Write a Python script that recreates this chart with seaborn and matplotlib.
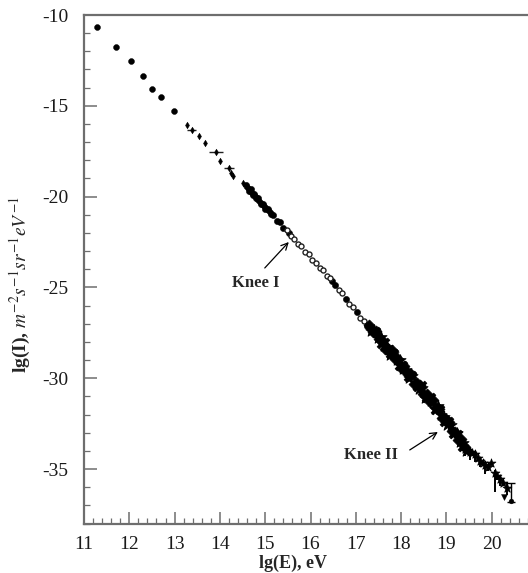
import matplotlib
matplotlib.use("Agg")
import matplotlib.pyplot as plt
from matplotlib.ticker import MultipleLocator
import pandas as pd
import seaborn as sns

# ---- measured cosmic-ray all-particle spectrum, lg(E) [eV] vs lg(I) ----
# direct (balloon / satellite) measurements
direct_lgE = [11.29, 11.70, 12.03, 12.30, 12.51, 12.71, 12.99]
direct_lgI = [-10.68, -11.78, -12.55, -13.38, -14.06, -14.50, -15.27]

# small-sample measurements around 10^13-10^14.5 eV
low_lgE = [13.27, 13.38, 13.54, 13.67, 13.91, 14.00, 14.20, 14.24, 14.29, 14.50]
low_lgI = [-16.06, -16.33, -16.66, -17.03, -17.54, -18.02, -18.44, -18.68, -18.87, -19.23]
low_xerr = [0.0, 0.10, 0.0, 0.0, 0.15, 0.0, 0.11, 0.0, 0.0, 0.0]

# air-shower arrays near the first knee (filled points)
knee_lgE = [14.58, 14.64, 14.68, 14.72, 14.76, 14.80, 14.85, 14.90, 14.95, 15.00,
            15.06, 15.12, 15.18, 15.25, 15.32, 15.40, 15.52, 16.48, 16.54, 16.78,
            17.02, 17.25, 17.31]
knee_lgI = [-19.37, -19.67, -19.60, -19.93, -19.86, -20.08, -20.06, -20.38, -20.40, -20.68,
            -20.68, -20.95, -20.99, -21.32, -21.41, -21.73, -22.03, -24.66, -24.84, -25.62,
            -26.38, -27.12, -27.31]

# second array near the knee (diamonds)
knee2_lgE = [14.62, 14.70, 14.78, 14.87, 14.97, 15.08]
knee2_lgI = [-19.55, -19.78, -19.95, -20.24, -20.50, -20.80]

# open circles between the knees
mid_lgE = [15.48, 15.56, 15.64, 15.72, 15.80, 15.88, 15.96, 16.04, 16.12, 16.20,
           16.28, 16.36, 16.44, 16.62, 16.70, 16.86, 16.94, 17.10, 17.18]
mid_lgI = [-21.86, -22.17, -22.31, -22.60, -22.73, -23.03, -23.18, -23.49, -23.63, -23.92,
           -24.05, -24.35, -24.50, -25.15, -25.33, -25.91, -26.08, -26.67, -26.86]

# ultra-high-energy detectors (three data sets)
uhe1_lgE = [17.30, 17.37, 17.44, 17.51, 17.58, 17.65, 17.72, 17.79, 17.86, 17.93,
            18.00, 18.07, 18.14, 18.21, 18.28, 18.35, 18.42, 18.49, 18.56, 18.63,
            18.70, 18.77, 18.84, 18.91, 18.98, 19.05, 19.12, 19.19, 19.26, 19.33, 19.40]
uhe1_lgI = [-27.07, -27.46, -27.42, -27.83, -27.88, -28.39, -28.37, -28.43, -28.93, -28.96,
            -29.42, -29.30, -29.71, -29.79, -30.32, -30.27, -30.39, -30.85, -30.89, -31.32,
            -31.19, -31.65, -31.72, -32.19, -32.24, -32.43, -32.92, -32.97, -33.40, -33.35, -33.77]

uhe2_lgE = [17.34, 17.41, 17.48, 17.55, 17.62, 17.69, 17.76, 17.83, 17.90, 17.97,
            18.04, 18.11, 18.18, 18.25, 18.32, 18.39, 18.46, 18.53, 18.60, 18.67,
            18.74, 18.81, 18.88, 18.95, 19.02, 19.09, 19.16, 19.23, 19.30, 19.37, 19.44]
uhe2_lgI = [-27.42, -27.36, -27.77, -27.73, -28.24, -28.27, -28.74, -28.65, -29.02, -29.02,
            -29.49, -29.56, -29.99, -29.89, -30.30, -30.60, -30.56, -31.07, -30.97, -31.25,
            -31.67, -31.54, -32.04, -32.14, -32.58, -32.59, -33.00, -33.02, -33.53, -33.54, -34.01]

uhe3_lgE = [17.45, 17.55, 17.65, 17.75, 17.85, 17.95, 18.05, 18.15, 18.25, 18.35,
            18.45, 18.55, 18.65, 18.75, 18.85, 18.95, 19.05, 19.15, 19.25, 19.35]
uhe3_lgI = [-27.40, -28.13, -28.03, -28.66, -28.60, -29.32, -29.27, -29.96, -29.83, -30.51,
            -30.39, -31.10, -31.04, -31.76, -31.67, -32.40, -32.33, -33.08, -33.06, -33.80]

# highest-energy bins with statistical errors
top_lgE = [19.38, 19.42, 19.47, 19.52, 19.57, 19.62, 19.69, 19.74, 19.80, 19.86,
           19.91, 19.99, 20.07, 20.12, 20.18, 20.24, 20.33]
top_lgI = [-33.75, -33.90, -33.95, -34.05, -34.10, -34.20, -34.40, -34.55, -34.65, -34.80,
           -34.90, -34.69, -35.22, -35.40, -35.55, -35.75, -36.06]
top_err_lo = [0.30, 0.40, 0.15, 0.45, 0.15, 0.40, 0.15, 0.35, 0.15, 0.50,
              0.20, 0.10, 1.05, 0.20, 0.40, 0.20, 0.35]
top_err_hi = [0.20, 0.15, 0.10, 0.20, 0.10, 0.20, 0.10, 0.20, 0.10, 0.20,
              0.15, 0.10, 0.15, 0.15, 0.20, 0.15, 0.35]

# last two points: lower value and capped bar
end_lgE = [20.27]
end_lgI = [-36.53]
cap_lgE = [20.43]
cap_lgI = [-36.75]
cap_err_lo = [0.07]
cap_err_hi = [0.98]

xticks = list(range(11, 21))
yticks = [-35, -30, -25, -20, -15, -10]

sns.set_theme(style="ticks")
plt.rcParams["font.family"] = ["Liberation Serif", "DejaVu Serif"]
plt.rcParams["mathtext.fontset"] = "stix"
plt.rcParams["axes.unicode_minus"] = False

fig = plt.figure(figsize=(5.28, 5.73), dpi=100)
ax = fig.add_axes([84 / 528, 1 - 523.5 / 573, 444 / 528, 508.5 / 573])

k = dict(ax=ax, color="black", legend=False, zorder=3)

sns.scatterplot(x=direct_lgE, y=direct_lgI, marker="o", s=18, edgecolor="black", **k)

ax.errorbar(low_lgE, low_lgI, xerr=low_xerr, fmt="none", ecolor="#222222",
            elinewidth=1.0, zorder=2)
sns.scatterplot(x=low_lgE, y=low_lgI, marker="d", s=12, edgecolor="black", **k)

sns.scatterplot(x=knee_lgE, y=knee_lgI, marker="o", s=20, edgecolor="black", **k)
sns.scatterplot(x=knee2_lgE, y=knee2_lgI, marker="D", s=16, edgecolor="black", **k)

sns.scatterplot(x=mid_lgE, y=mid_lgI, marker="o", s=13, ax=ax, legend=False,
                facecolor="white", edgecolor="#222222", linewidth=1.0, zorder=3)

sns.scatterplot(x=uhe1_lgE, y=uhe1_lgI, marker="D", s=32, edgecolor="black", **k)
sns.scatterplot(x=uhe2_lgE, y=uhe2_lgI, marker="*", s=70, edgecolor="black", **k)
sns.scatterplot(x=uhe3_lgE, y=uhe3_lgI, marker="X", s=40, edgecolor="black", **k)

ax.errorbar(top_lgE, top_lgI, yerr=[top_err_lo, top_err_hi], fmt="none",
            ecolor="black", elinewidth=1.4, zorder=2)
sns.scatterplot(x=top_lgE, y=top_lgI, marker="*", s=45, edgecolor="black", **k)
sns.scatterplot(x=end_lgE, y=end_lgI, marker="v", s=18, edgecolor="black", **k)
ax.errorbar(cap_lgE, cap_lgI, yerr=[cap_err_lo, cap_err_hi], fmt="none",
            ecolor="black", elinewidth=1.0, capsize=3, capthick=1.0, zorder=2)
sns.scatterplot(x=cap_lgE, y=cap_lgI, marker="o", s=12, edgecolor="black", **k)

# knee annotations
ax.text(14.79, -24.76, "Knee I", fontsize=12, fontweight="bold", ha="center", va="center")
ax.annotate("", xy=(15.52, -22.50), xytext=(14.99, -23.93),
            arrowprops=dict(arrowstyle="->", lw=0.9, color="black", shrinkA=0, shrinkB=0))
ax.text(17.34, -34.23, "Knee II", fontsize=12, fontweight="bold", ha="center", va="center")
ax.annotate("", xy=(18.81, -32.96), xytext=(18.19, -33.95),
            arrowprops=dict(arrowstyle="->", lw=0.9, color="black", shrinkA=0, shrinkB=0))

ax.set_xlim(11, 20.8)
ax.set_ylim(-38, -10)
ax.set_xticks(xticks)
ax.set_yticks(yticks)
ax.xaxis.set_minor_locator(MultipleLocator(0.2))
ax.yaxis.set_minor_locator(MultipleLocator(1))

spine_c = "#6e6e6e"
for side in ("top", "left", "bottom"):
    ax.spines[side].set_color(spine_c)
    ax.spines[side].set_linewidth(1.6)
ax.spines["right"].set_visible(False)

ax.tick_params(which="major", direction="in", length=9, width=1.1, color=spine_c,
               labelsize=14, labelcolor="#1a1a1a")
ax.tick_params(axis="x", which="major", pad=9)
ax.tick_params(axis="y", which="major", pad=11)
ax.tick_params(which="minor", direction="in", length=4, width=0.9, color=spine_c)

ax.set_xlabel("lg(E), eV", fontsize=13, fontweight="bold")
ax.set_ylabel(r"lg(I), $m^{-2}s^{-1}sr^{-1}eV^{-1}$", fontsize=14, fontweight="bold")
ax.xaxis.set_label_coords(0.47, -0.062)
ax.yaxis.set_label_coords(-0.115, 0.47)

fig.savefig("out.png", dpi=100)
